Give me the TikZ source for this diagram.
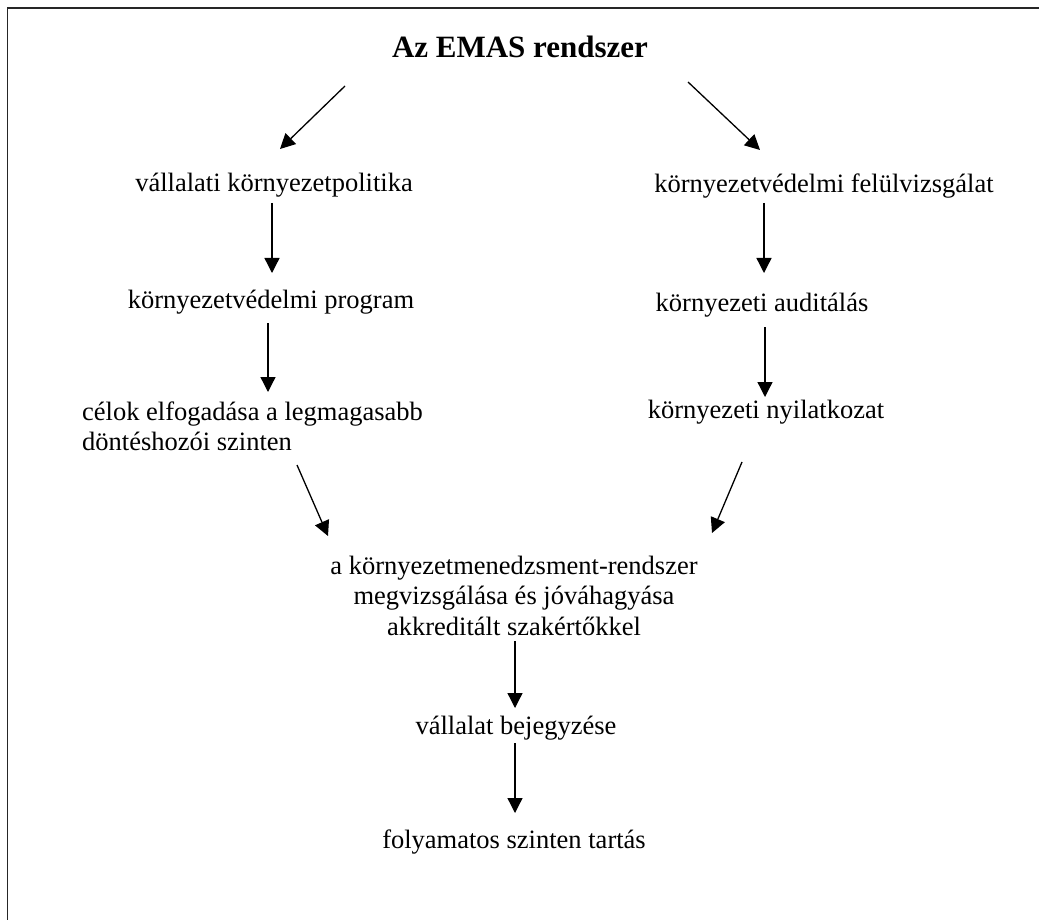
\documentclass[tikz,border=0pt]{standalone}
\usepackage{fontspec}
\setmainfont{Liberation Serif}
\usetikzlibrary{arrows.meta,calc}
\tikzset{
  lbl/.style={inner sep=0pt, font=\fontsize{26.5}{30.5}\selectfont},
  ttl/.style={inner sep=0pt, font=\fontsize{31}{33}\selectfont\bfseries},
  arr/.style={line width=1.3pt, -{Triangle[length=15pt,width=15pt]}},
  frame/.style={line width=1.6pt, black!85}
}
\begin{document}
\begin{tikzpicture}[x=1pt,y=-1pt]
\useasboundingbox (0,0) rectangle (1039,920);
\draw[frame] (7.5,920) -- (7.5,8) -- (1039,8);

\node[ttl, anchor=base] (T) at (520,58) {Az EMAS rendszer};

\node[lbl, anchor=base] (vkp) at (274,192) {vállalati környezetpolitika};
\node[lbl, anchor=base] (kvp) at (271,308) {környezetvédelmi program};
\node[lbl, anchor=base west] (celok) at (82,420)
  {\vtop{\halign{#\hfil\cr célok elfogadása a legmagasabb\cr döntéshozói szinten\cr}}};

\node[lbl, anchor=base] (felu) at (824,193) {környezetvédelmi felülvizsgálat};
\node[lbl, anchor=base] (aud) at (762,311) {környezeti auditálás};
\node[lbl, anchor=base] (nyil) at (766,418) {környezeti nyilatkozat};

\node[lbl, anchor=base] (C) at (514,574)
  {\vtop{\halign{\hfil#\hfil\cr a környezetmenedzsment-rendszer\cr megvizsgálása és jóváhagyása\cr akkreditált szakértőkkel\cr}}};

\node[lbl, anchor=base] (vb) at (516,734) {vállalat bejegyzése};
\node[lbl, anchor=base] (fol) at (514,848) {folyamatos szinten tartás};

\draw[arr] ($(T.base)+(-175,28)$) -- ($(vkp.base)+(6,-43)$);
\draw[arr] ($(T.base)+(168,24)$) -- ($(felu.base)+(-64,-43)$);

\draw[arr] ($(vkp.base)+(-2,11)$) -- ($(kvp.base)+(1,-35)$);
\draw[arr] ($(kvp.base)+(-3,15)$) -- ($(celok.base west)+(186,-28)$);

\draw[arr] ($(felu.base)+(-60,10)$) -- ($(aud.base)+(2,-38)$);
\draw[arr] ($(aud.base)+(3,16)$) -- ($(nyil.base)+(-1,-21)$);

\draw[arr] ($(celok.base west)+(215,45)$) -- ($(C.base)+(-186,-38)$);
\draw[arr] ($(nyil.base)+(-24,44)$) -- ($(C.base)+(198,-41)$);

\draw[arr] ($(C.base)+(1,67)$) -- ($(vb.base)+(-1,-26)$);
\draw[arr] ($(vb.base)+(-1,9)$) -- ($(fol.base)+(1,-35)$);
\end{tikzpicture}
\end{document}
